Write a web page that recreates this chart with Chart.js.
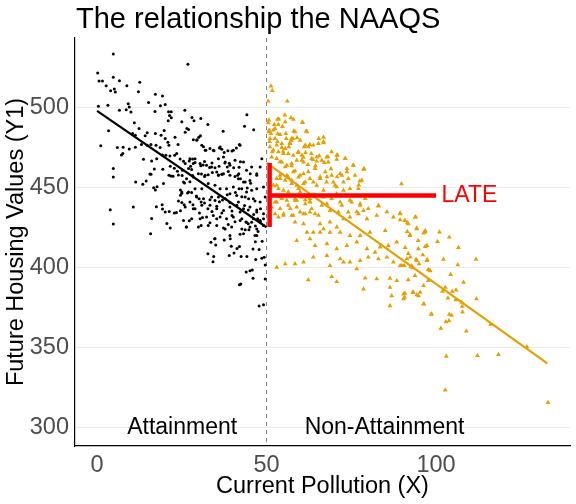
<!DOCTYPE html>
<html>
<head>
<meta charset="utf-8">
<script src="https://cdn.jsdelivr.net/npm/chart.js@4.4.1/dist/chart.umd.min.js"></script>
<style>
  html, body { margin: 0; padding: 0; background: #fff; }
  #wrap { width: 576px; height: 504px; }
</style>
</head>
<body>
<div id="wrap"><canvas id="graph" width="576" height="504"></canvas></div>
<script>
// tick labels
const xTicks = [0, 50, 100]
const yTicks = [300, 350, 400, 450, 500]

// Attainment side (X < 50), [x, y]
const attainment = [
  [4.8,533.4],[26.8,527],[0.2,521.5],[0.6,516.5],[1.6,516.5],[4.8,518.8],[6.6,516.7],[2.7,513.6],[4.0,510.5],[5.1,511.5],
  [5.4,509.6],[8.8,513.6],[12.6,515.7],[12.2,509.8],[0.4,500.8],[3.2,501.4],[9.2,502.3],[9.5,500.2],[8.6,498.6],[10,497.1],
  [6.6,498.3],[15.2,503.1],[17.2,508.2],[19.3,507.1],[18.7,501.1],[20.1,501.9],[17.1,497.5],[21.1,497.3],[21.9,497.3],[21.4,495],
  [21.9,493.5],[21.0,491.7],[25.9,498.3],[28,493.7],[28.6,491.7],[30.6,493.1],[25,491],[11,490.4],[32.7,489.3],[44.2,495.4],
  [43.5,488.3],[46.2,486],[37.2,485.1],[3.4,485.4],[12.4,486.8],[14.8,484.2],[14.2,482.3],[17.2,483.7],[18.9,482.6],[19.8,485.6],
  [10.5,483.7],[11.3,482.6],[26.5,486.8],[27,486.2],[26,484.5],[20.1,480.6],[20.9,478.3],[21.2,476.4],[23,481.4],[23.9,476.8],
  [30,481.4],[30.5,482.3],[29.5,479.8],[28.4,479.8],[1.1,476],[6,474.9],[7.7,475.1],[9.5,474.1],[11.3,475.1],[7.2,470.2],
  [7.6,471.2],[13.1,476.8],[14.8,476.4],[15.9,476.8],[17.4,476.4],[18.6,474.9],[31.4,475.4],[32.1,473.2],[33.3,474.3],[34.5,473],
  [36.1,474.7],[36.8,473.9],[37.5,471.8],[38.6,472.9],[39.8,472.7],[41.1,474.7],[42,476.8],[13.7,467.6],[16.1,466.6],[17.6,468],
  [19.3,470.3],[20.3,470.1],[21.5,469.6],[22.9,470.1],[23.5,471.2],[24.5,467.8],[25.5,466.4],[27.2,466.6],[28.2,467.8],[4.8,461.8],
  [4.8,456.6],[16.9,461.6],[19.4,461.4],[21.6,463.2],[22.8,462],[27.6,463.2],[27.9,461.2],[27,461.8],[28.9,465.6],[30.6,463.5],
  [31.3,464.1],[31.7,466.2],[33.2,462.4],[33.9,465.3],[34.8,462.3],[36,463.3],[37.7,465.3],[38.4,462.8],[39,465.1],[40.3,462.3],
  [42.3,466],[41.9,462.6],[45.2,458.6],[47.1,458.6],[15.9,458.2],[21.8,457.2],[25.1,457.4],[28.2,457.4],[30.8,458.4],[31.7,456.8],
  [32.8,458],[35.8,457.8],[36.8,458.2],[41.5,457.6],[41.8,458.6],
  [11.4,453.4],[13.5,452],[14.5,454],[16.7,449.8],[17.2,448.4],[17.7,450.5],[19.6,452.4],[15.6,458.4],[21.2,457.6],[22.4,457],
  [23.7,460.1],[24,457.8],[25.8,452.8],[27.4,453.5],[25.2,460.7],[24.6,448.4],[24.6,445.1],[25,446.3],[26.7,446.6],[27.9,446.8],
  [24,441.5],[25,440.6],[24.6,435.4],[23.4,434.4],[21.3,435],[22.8,434],[25.7,439.2],[17.5,437.9],[19.2,439.2],[19.3,436.5],
  [20.1,434.6],[3.9,436],[10.7,437.7],[4.8,427.1],[16.1,430.6],[15.8,421],[20.6,427.5],[21.6,424.6],[27.2,429.2],[26.3,425.3],
  [28.9,436.7],[28.3,439.2],[30.2,434],[30.7,426.2],[31.1,431.2],[29.3,444.6],[30.1,442.9],[30.7,440.9],[31.7,440.3],[33.3,442.3],
  [34.8,441.9],[36.1,441.1],[37,442.2],[32.7,436.7],[33.9,435],[35.3,438.2],[36.8,434],[33.3,427.9],[35.3,430.4],[37.3,424.6],
  [38.7,426.9],[39.8,432.5],[33.6,415.8],[35,414],[34.7,417.9],[32.7,408.5],[34.2,403.5],[34.4,406.8],[37.5,417.1],[39.3,417.9],
  [39.6,413.3],[39,407.4],[40.4,409],[41.3,411.8],[42,413.1],[42.5,406.8],[44.2,406.8],[42.2,420.8],[43.7,423.5],[44.8,423.5],
  [45.6,428.3],[46.2,433.1],[47.1,420],[47.5,422.5],[46.7,416],[46,411.6],[48.7,416.4],[47.8,411.2],[46.8,404.9],[48.6,405.8],
  [49.3,406.4],[49.6,401.6],[44,397.2],[45.1,398],[45.8,398.4],[46,393.2],[49.6,392.8],[42,389.2],[42.4,389.7],[47.8,375.9],
  [49.1,376.7],[34,459.3],[35.8,457.6],[36.9,458.2],[38.7,459.9],[40.7,456.8],[42.3,455.5],[43.7,453.4],[44.3,449.7],[45.3,452.6],
  [41.9,449.2],[40.8,446.9],[38.4,445.5],[39.2,440.6],[41.7,440.9],[42.7,444.2],[43.5,438.7],[44.6,435.9],[44.7,442.9],[46.6,441.6],
  [47.1,435.9],[48.2,436.7],[49.1,430.4],[48.2,428.4],[46.7,425.9],[47.4,430.4],[39.8,435.3],[42.2,434.7],[42.7,430.4],[43.9,428.4],
  [44.6,427.3],[40.7,428.6],
  [29.4,479.5],[30.9,476.4],[31.9,473.2],[34.3,473.2],[36.3,475.3],[40.2,473.2],[42.2,476.4],[27.4,468],[28.9,468],[28.4,464.9],
  [26,464.9],[30.4,464.9],[32.3,463.8],[33.8,462.8],[35.8,468],[37.3,469.1],[37.8,465.9],[39.2,463.8],[40.7,467],[43.2,465.9],
  [44.1,460.7],[45.6,462.8],[48.6,468],[48.1,462.8],[47.1,457.6],[45.1,454.4],[43.2,453.4],[41.7,455.5],[39.2,457.6],[37.3,458.6],
  [35.3,459.7],[31.9,457.6],[29.9,458.6],[28.4,456.5],[26.4,455.5],[25.5,453.4],[25,447.1],[27,447.1],[28.9,449.2],[30.9,449.2],
  [32.8,452.4],[34.8,451.3],[36.3,449.2],[38.2,449.2],[40.2,450.3],[42.7,449.2],[44.1,447.1],[45.6,448.2],[47.1,449.2],[49.1,450.3],
  [49.6,444],[48.1,440.9],[46.1,443],[43.7,444],[41.2,445],[39.2,446.1],[37.8,443],[35.8,444],[33.8,444],[31.4,443],
  [29.4,444],[27.4,440.9],[26,437.7],[28.4,436.7],[30.9,438.8],[33.3,438.8],[35.3,436.7],[37.3,435.6],[39.2,437.7],[41.2,438.8],
  [43.2,436.7],[45.1,437.7],[47.1,434.6],[49.1,433.5],[48.1,429.4],[46.1,430.4],[44.1,428.3],[42.2,429.4],[40.2,431.5],[38.2,430.4],
  [36.3,431.5],[34.3,432.5],[32.3,431.5],[30.4,430.4],[27.9,430.4],[25.5,429.4],[26.4,425.2],[29.9,425.2],[32.8,426.2],[35.3,426.2],
  [37.8,424.1],[39.7,425.2],[42.7,424.1],[45.1,425.2],[47.1,424.1],[49.1,426.2],[46.6,419.9],[43.2,421],[39.2,419.9],[34.8,417.9]
]

// Non-attainment side (X >= 50), [x, y]
const nonAttainment = [
  [51.3,513.4],[51.7,510.5],[50.5,503.9],[56.1,503.9],[55.4,495.2],[57.2,493.5],[53.6,492.7],[60.6,490.8],[50.5,490.4],[52.5,486.8],
  [50.8,485.8],[54.7,488.1],[58,485.2],[61.7,485.2],[59,481],[57.8,480.6],[57.3,479.3],[55.8,480.6],[53.3,483.5],[51.3,483.7],
  [50.9,478.7],[53.2,478.6],[51,475.4],[52,473.3],[54.5,474.9],[54.9,472.5],[56.9,477.9],[56.6,475.4],[65.4,480.6],[66.8,481.3],
  [62.8,476.8],[61.1,475.4],[63.8,476.4],[59.3,471.8],[61.5,471.8],[63.2,471.2],[63.7,467.4],[60.9,468.8],[65.5,469.7],[66.8,477.9],
  [68.1,469.1],[70.9,470.2],[70.7,467.6],[73.2,468],[75.6,463.9],[78.8,461.6],[77.5,454],[77.2,451.5],[89.8,452.2],[73.7,461.8],
  [72.2,457.6],[70.8,456.6],[69,461.6],[67,465.5],[64.8,466.4],[64.4,463.5],[62.2,464.3],[60.4,467],[54,466],[55.5,462.8],
  [57.4,463.5],[58.4,460.3],[59.9,457.6],[56,457.6],[54,455.5],[53,451.3],[57.4,454.5],[58.9,451.3],[60.9,452.4],[62.8,455.5],
  [64.8,451.3],[65.8,456.6],[67.8,456.6],[69.7,453.4],[70.7,450.3],[72.7,448.2],[66.8,448.2],[63.8,445.1],[61.9,444.1],[59.9,447.2],
  [56.4,447.2],[54,444.1],[58.9,441.9],[62.8,440.9],[67.8,439.8],[71.7,440.9],[74.6,441.9],[77.6,439.8],[83,438.4],
  [53,440.9],[56,441.9],[58.4,441.9],[61.4,442.3],[62.8,441.3],[57,436.7],[59.9,434.6],[60.9,433.5],[62.8,434.6],[64.3,433.5],
  [57.9,432.5],[55,433.5],[53.5,431.5],[58.4,428.3],[60.9,427.3],[61.9,422],[63.8,422],[65.8,427.3],[66.8,424.1],[68.7,428.3],
  [70.7,425.2],[72.7,430.4],[74.6,431.5],[76.6,434.7],[78.6,435.6],[79.6,430.4],[82.5,432.5],[83,438.7],[85.5,434.7],[87.4,431.5],
  [89.4,433.5],[90.9,429.3],[93.8,431.5],[91.8,427.3],[85,423.1],[80.5,422],[77.6,419.9],[74.6,419.9],[71.7,422],[68.7,422],
  [65.8,422],[58.9,416.8],[62.8,417.9],[64.3,413.7],[67.8,414.7],[70.7,411.6],[73.7,413.7],[76.6,415.8],[79.6,411.6],[82,409.5],
  [83.5,412.7],[85.9,413.7],[88.4,415.8],[92.3,419.9],[94.3,424.1],[96.8,422.1],[97.3,413.7],[94.8,411.6],[91.4,405.3],[89.4,401.1],
  [87.4,403.3],[85.5,406.4],[83,405.3],[80,406.4],[77.6,404.3],[74.6,403.3],[71.7,405.3],[67.8,407.4],[63.8,406.4],[60.9,403.3],
  [58.4,402.2],[55.5,402.2],[53,400.1],[68.7,401.1],[72.7,403.3],[76.6,399.1],[79.1,393.4],[82.5,392.8],[86.4,393.2],[88.4,391.7],
  [86.4,387.6],[86.9,382.3],[86.4,376],[90.4,383.4],[93.3,384.4],[94.8,382.3],[96.3,388.6],[97.7,391.7],[98.2,398],[93.8,394.9],
  [90.4,380.3],[78.6,386.5],[69.2,394.2],[62.3,392.2],[70.7,391.1],[96.3,377.1],[98.7,370.8],[90.4,401.1],[92.8,401.1],[94.3,404.3],
  [97.3,404.3],
  [94,431.5],[94.3,424.6],[96.8,423.1],[96.3,421.4],[94.7,416.8],[92.3,420.4],[101,422.1],[103.9,418.9],[100.4,416.2],[106.6,412.4],
  [96.8,413],[96.1,407.8],[97.4,404.9],[102.2,405.1],[111.8,405.1],[106.4,401.6],[97.7,398.6],[98.2,397.8],[104.3,395.5],[108.1,390.7],
  [102.7,387.6],[101.9,385.1],[104.8,385.1],[105.9,385.9],[103.5,380.9],[105.8,379.8],[107.6,378.2],[111.9,380.3],[107.7,375.7],[107.8,372.1],
  [103.9,370.7],[104.6,370],[98.5,370.7],[102.9,366],[103.8,366.6],[101.4,361.9],[108.9,360.2],[116.1,364.4],[126.8,350.4],[103,344.5],
  [112.2,344.9],[118.4,345.6],[102.7,323.4],[133,315.5],[89.4,434],[89.4,429.8],[90.7,429.2],[91.5,427.9],[91.5,422.4],[90.9,412.4],
  [91.8,408.7],[92.4,406.4],[94.1,405.1],[95,402.2],[89.9,401.1],[90.6,401.1],[92.6,400.3],[93.1,399.7],[91.8,392.2],[90.8,383.8],
  [90.7,381.3],[93.1,384.4],[94.3,382.9],[95.3,384.4],[96.4,377.3],
  [50.7,492.1],[52.3,489.3],[53.5,489.3],[53.2,492.5],[55.5,491],[57.9,492.5],[60.6,490.6],[61.9,484.7],[58.4,484.7],[55.7,483.7],
  [54,483.1],[52.5,480.6],[51,480.6],[50.7,484.7],[52,485.8],[53,476.4],[54.5,477.4],[55.5,474.3],[56.9,477.4],[57.4,480.6],
  [59.9,479.5],[61.4,476.4],[62.3,475.3],[59.4,472.2],[60.4,470.1],[57.9,470.1],[56.4,471.2],[55,471.2],[53.5,472.2],[51.7,472.2],
  [51.5,469],[53,468],[54.5,465.9],[56,463.8],[57.4,464.9],[58.9,467],[60.9,465.9],[63.3,468],[64.8,469],[66.3,467],
  [67.7,469],[68.2,465.9],[65.3,477.4],[66.8,478.5],[69.2,472.2],[70.7,470.1],[73.2,468],[75.6,463.8],[78.6,461.3],[73.7,459.7],
  [71.7,458.6],[69.2,457.6],[67.3,459.7],[64.3,461.8],[62.3,459.7],[60.9,458.6],[59.4,456.5],[57.9,459.7],[56.4,456.5],[55.5,454.4],
  [54,457.6],[53,455.5],[52,451.3],[53.5,449.2],[55,448.2],[57.4,452.4],[59.4,449.2],[61.4,453.4],[63.8,453.4],[65.8,455.5],
  [67.7,453.4],[70.2,451.3],[72.7,453.4],[74.1,455.5],[76.1,457.6],[78.1,454.4],[77.1,449.2],[74.6,449.2],[73.2,445.2],[70.7,446.1],
  [69.2,443],[66.8,444],[64.3,445.2],[62.8,443],[60.4,444],[58.4,443],[56.4,445.2],[54.5,443],[52.5,440.9],[51.5,437.7],
  [54,436.7],[56.4,438.8],[58.9,437.7],[61.4,439.8],[63.3,436.7],[66.3,438.8],[68.7,435.6],[72.2,438.8],[75.1,440.9],[77.6,438.8],
  [79.1,443],[80,436.7],[77.1,433.5],[74.1,434.6],[71.2,434.6],[65.3,432.5],[61.4,433.5],[57.4,432.5],[55,432.5],[52.5,433.5]
]

// fitted lines
const attainFit = [[0, 497.8], [50, 425.1]]
const nonAttainFit = [[50, 465.3], [132.8, 340.1]]

// LATE bracket
const lateVertical = [[50.9, 425.3], [50.9, 465.3]]
const lateHorizontal = [[50.9, 444.9], [100, 444.9]]

const cutoff = 50
const labels = [
    { text: 'Attainment', x: 25.1, y: 300, color: '#000', align: 'center' },
    { text: 'Non-Attainment', x: 84.8, y: 300, color: '#000', align: 'center' },
    { text: 'LATE', x: 101.6, y: 444.9, color: '#ff0000', align: 'left' },
]

const FONT = '"Liberation Sans", Arial, Helvetica, sans-serif'
const pts = arr => arr.map(p => ({ x: p[0], y: p[1] }))

// dashed cutoff line, title and text labels
const extras = {
    id: 'extras',
    beforeDatasetsDraw(chart) {
        const { ctx, chartArea, scales } = chart
        const px = scales.x.getPixelForValue(cutoff)
        ctx.save()
        ctx.strokeStyle = '#7f7f7f'
        ctx.lineWidth = 1
        ctx.setLineDash([4, 4])
        ctx.beginPath()
        ctx.moveTo(px, chartArea.top)
        ctx.lineTo(px, chartArea.bottom)
        ctx.stroke()
        ctx.restore()
    },
    afterDatasetsDraw(chart) {
        const { ctx, chartArea, scales } = chart
        ctx.save()
        ctx.font = '23px ' + FONT
        ctx.textBaseline = 'middle'
        labels.forEach(l => {
            ctx.fillStyle = l.color
            ctx.textAlign = l.align
            ctx.fillText(l.text, scales.x.getPixelForValue(l.x), scales.y.getPixelForValue(l.y))
        })
        ctx.font = '29px ' + FONT
        ctx.fillStyle = '#000'
        ctx.textAlign = 'left'
        ctx.textBaseline = 'alphabetic'
        ctx.fillText('The relationship the NAAQS', chartArea.left + 1, 28)
        ctx.restore()
    }
}

let graph = document.getElementById('graph').getContext('2d')

new Chart(graph, {
    type: 'scatter',
    data: {
        datasets: [
            {
                data: pts(lateVertical), showLine: true,
                borderColor: '#ff0000', borderWidth: 4.5, pointRadius: 0,
            },
            {
                data: pts(lateHorizontal), showLine: true,
                borderColor: '#ff0000', borderWidth: 4.5, pointRadius: 0,
            },
            {
                data: pts(attainFit), showLine: true,
                borderColor: '#000000', borderWidth: 2.2, pointRadius: 0,
            },
            {
                data: pts(nonAttainFit), showLine: true,
                borderColor: '#E69F00', borderWidth: 2.2, pointRadius: 0,
            },
            {
                data: pts(attainment),
                pointStyle: 'circle', pointRadius: 1.5, borderWidth: 0,
                backgroundColor: '#000000', borderColor: '#000000',
            },
            {
                data: pts(nonAttainment),
                pointStyle: 'triangle', pointRadius: 2.8, borderWidth: 0,
                backgroundColor: '#E69F00', borderColor: '#E69F00',
            },
        ]
    },
    options: {
        responsive: false,
        animation: false,
        events: [],
        layout: { padding: { top: 38, right: 6, left: 0, bottom: 0 } },
        plugins: { legend: { display: false }, tooltip: { enabled: false } },
        scales: {
            x: {
                type: 'linear', min: -6.5, max: 139.5,
                afterBuildTicks: s => { s.ticks = xTicks.map(v => ({ value: v })) },
                afterFit: s => { s.height = 58 },
                grid: { display: false },
                border: { display: true, color: '#000', width: 1.2 },
                ticks: { color: '#4d4d4d', font: { size: 23.5, family: FONT }, padding: -3, maxRotation: 0 },
                title: { display: true, text: 'Current Pollution (X)', color: '#000',
                         font: { size: 23.5, family: FONT }, padding: { top: 0, bottom: 3 } },
            },
            y: {
                type: 'linear', min: 288.4, max: 543.4,
                afterBuildTicks: s => { s.ticks = yTicks.map(v => ({ value: v })) },
                afterFit: s => { s.width = 75 },
                grid: { color: '#ebebeb', lineWidth: 1, drawTicks: false },
                border: { display: true, color: '#000', width: 1.2 },
                ticks: { color: '#4d4d4d', font: { size: 23.5, family: FONT }, padding: 6 },
                title: { display: true, text: 'Future Housing Values (Y1)', color: '#000',
                         font: { size: 23.5, family: FONT }, padding: { top: 2, bottom: 0 } },
            }
        }
    },
    plugins: [extras]
})
</script>
</body>
</html>
